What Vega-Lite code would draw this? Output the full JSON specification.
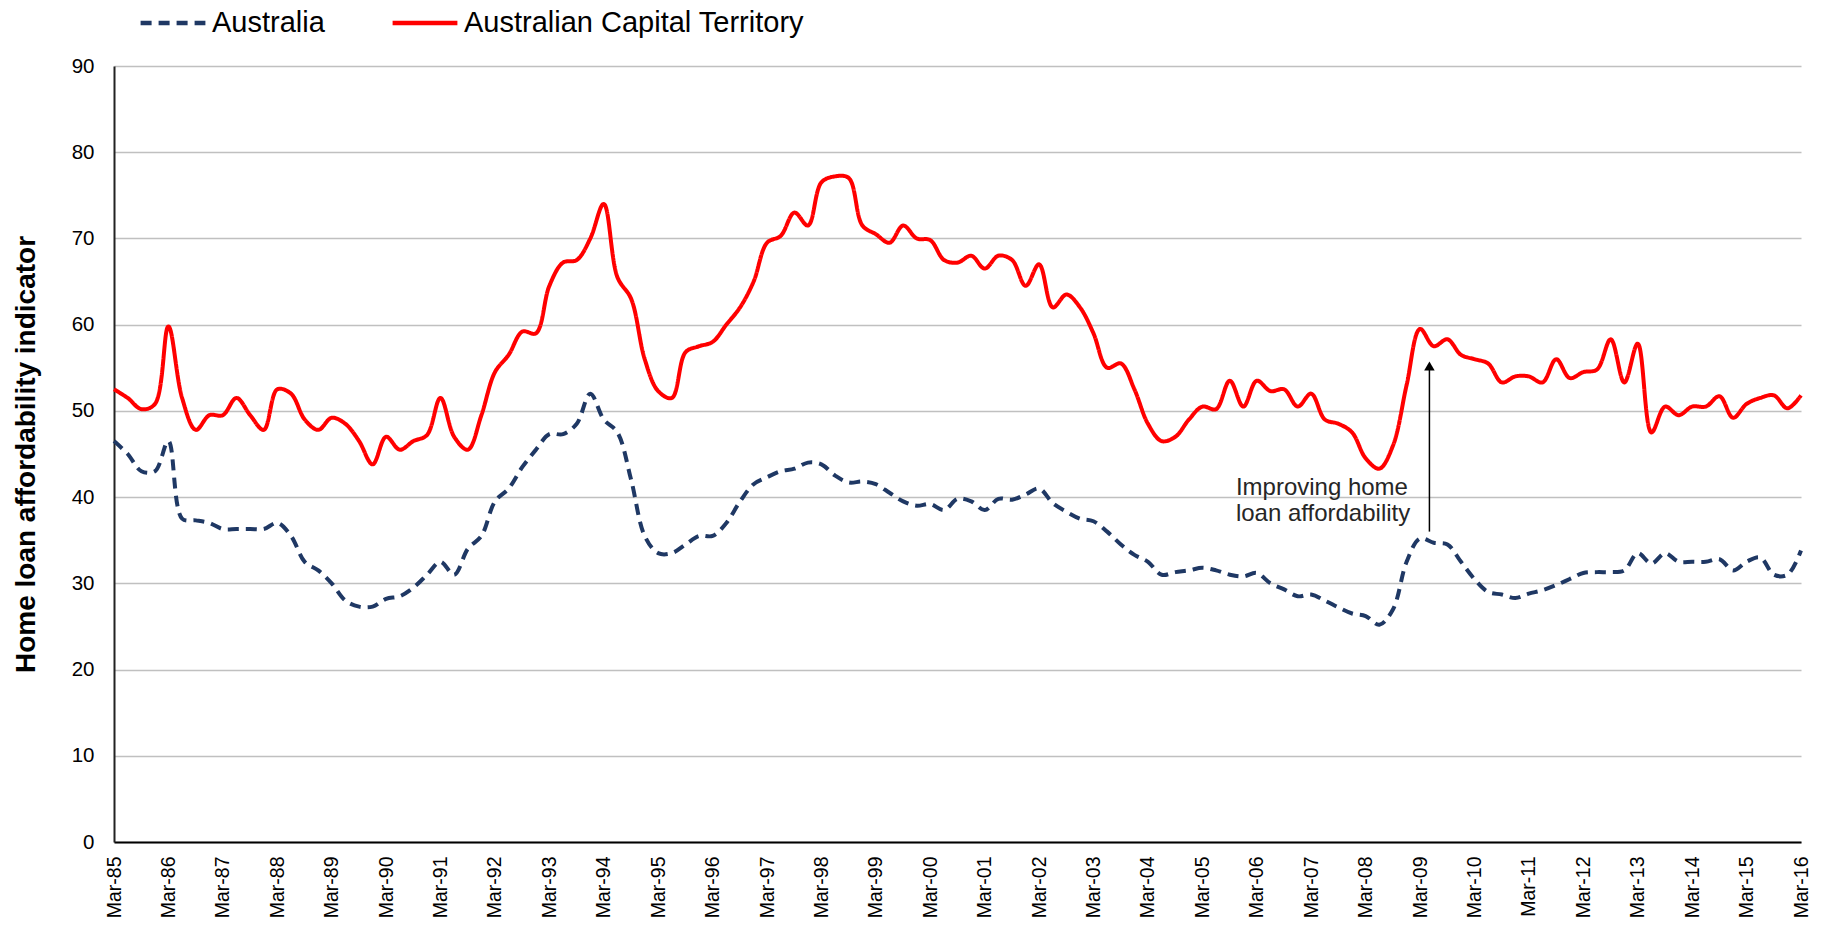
{
  "$schema": "https://vega.github.io/schema/vega-lite/v6.json",
  "autosize": {"type": "none"},
  "padding": {"left": 114, "top": 66, "right": 23, "bottom": 92},
  "width": 1687,
  "height": 776,
  "background": "white",
  "config": {
    "font": "Liberation Sans",
    "view": {"stroke": null}
  },
  "datasets": {
    "series": [
      {"date":"1985-03-01","Australia":46.5,"Australian Capital Territory":52.5},
      {"date":"1985-06-01","Australia":45,"Australian Capital Territory":51.5},
      {"date":"1985-09-01","Australia":43,"Australian Capital Territory":50.2},
      {"date":"1985-12-01","Australia":43,"Australian Capital Territory":50.8},
      {"date":"1986-03-01","Australia":46.5,"Australian Capital Territory":59.8},
      {"date":"1986-06-01","Australia":37.5,"Australian Capital Territory":51.5},
      {"date":"1986-09-01","Australia":37.3,"Australian Capital Territory":47.8},
      {"date":"1986-12-01","Australia":37,"Australian Capital Territory":49.5},
      {"date":"1987-03-01","Australia":36.3,"Australian Capital Territory":49.5},
      {"date":"1987-06-01","Australia":36.3,"Australian Capital Territory":51.5},
      {"date":"1987-09-01","Australia":36.3,"Australian Capital Territory":49.5},
      {"date":"1987-12-01","Australia":36.3,"Australian Capital Territory":47.8},
      {"date":"1988-03-01","Australia":37,"Australian Capital Territory":52.5},
      {"date":"1988-06-01","Australia":35.5,"Australian Capital Territory":52},
      {"date":"1988-09-01","Australia":32.5,"Australian Capital Territory":49},
      {"date":"1988-12-01","Australia":31.5,"Australian Capital Territory":47.8},
      {"date":"1989-03-01","Australia":30,"Australian Capital Territory":49.2},
      {"date":"1989-06-01","Australia":28,"Australian Capital Territory":48.5},
      {"date":"1989-09-01","Australia":27.3,"Australian Capital Territory":46.5},
      {"date":"1989-12-01","Australia":27.3,"Australian Capital Territory":43.8},
      {"date":"1990-03-01","Australia":28.2,"Australian Capital Territory":47},
      {"date":"1990-06-01","Australia":28.5,"Australian Capital Territory":45.5},
      {"date":"1990-09-01","Australia":29.5,"Australian Capital Territory":46.5},
      {"date":"1990-12-01","Australia":31,"Australian Capital Territory":47.2},
      {"date":"1991-03-01","Australia":32.5,"Australian Capital Territory":51.5},
      {"date":"1991-06-01","Australia":31,"Australian Capital Territory":47},
      {"date":"1991-09-01","Australia":34,"Australian Capital Territory":45.5},
      {"date":"1991-12-01","Australia":35.5,"Australian Capital Territory":49.5},
      {"date":"1992-03-01","Australia":39.5,"Australian Capital Territory":54.5},
      {"date":"1992-06-01","Australia":41,"Australian Capital Territory":56.5},
      {"date":"1992-09-01","Australia":43.5,"Australian Capital Territory":59.2},
      {"date":"1992-12-01","Australia":45.5,"Australian Capital Territory":59},
      {"date":"1993-03-01","Australia":47.3,"Australian Capital Territory":64.5},
      {"date":"1993-06-01","Australia":47.3,"Australian Capital Territory":67.2},
      {"date":"1993-09-01","Australia":48.5,"Australian Capital Territory":67.5},
      {"date":"1993-12-01","Australia":52,"Australian Capital Territory":70},
      {"date":"1994-03-01","Australia":49,"Australian Capital Territory":74},
      {"date":"1994-06-01","Australia":47.5,"Australian Capital Territory":65.5},
      {"date":"1994-09-01","Australia":42,"Australian Capital Territory":63},
      {"date":"1994-12-01","Australia":35.5,"Australian Capital Territory":56},
      {"date":"1995-03-01","Australia":33.5,"Australian Capital Territory":52.3},
      {"date":"1995-06-01","Australia":33.5,"Australian Capital Territory":51.5},
      {"date":"1995-09-01","Australia":34.5,"Australian Capital Territory":56.8},
      {"date":"1995-12-01","Australia":35.5,"Australian Capital Territory":57.5},
      {"date":"1996-03-01","Australia":35.5,"Australian Capital Territory":58},
      {"date":"1996-06-01","Australia":37,"Australian Capital Territory":60},
      {"date":"1996-09-01","Australia":39.5,"Australian Capital Territory":62},
      {"date":"1996-12-01","Australia":41.5,"Australian Capital Territory":65},
      {"date":"1997-03-01","Australia":42.3,"Australian Capital Territory":69.5},
      {"date":"1997-06-01","Australia":43,"Australian Capital Territory":70.3},
      {"date":"1997-09-01","Australia":43.3,"Australian Capital Territory":73},
      {"date":"1997-12-01","Australia":44,"Australian Capital Territory":71.5},
      {"date":"1998-03-01","Australia":43.8,"Australian Capital Territory":76.5},
      {"date":"1998-06-01","Australia":42.5,"Australian Capital Territory":77.2},
      {"date":"1998-09-01","Australia":41.7,"Australian Capital Territory":77},
      {"date":"1998-12-01","Australia":41.8,"Australian Capital Territory":71.5},
      {"date":"1999-03-01","Australia":41.5,"Australian Capital Territory":70.5},
      {"date":"1999-06-01","Australia":40.5,"Australian Capital Territory":69.5},
      {"date":"1999-09-01","Australia":39.5,"Australian Capital Territory":71.5},
      {"date":"1999-12-01","Australia":39,"Australian Capital Territory":70},
      {"date":"2000-03-01","Australia":39.2,"Australian Capital Territory":69.8},
      {"date":"2000-06-01","Australia":38.5,"Australian Capital Territory":67.5},
      {"date":"2000-09-01","Australia":39.8,"Australian Capital Territory":67.2},
      {"date":"2000-12-01","Australia":39.5,"Australian Capital Territory":68},
      {"date":"2001-03-01","Australia":38.5,"Australian Capital Territory":66.5},
      {"date":"2001-06-01","Australia":39.8,"Australian Capital Territory":68},
      {"date":"2001-09-01","Australia":39.7,"Australian Capital Territory":67.5},
      {"date":"2001-12-01","Australia":40.3,"Australian Capital Territory":64.5},
      {"date":"2002-03-01","Australia":41,"Australian Capital Territory":67},
      {"date":"2002-06-01","Australia":39.3,"Australian Capital Territory":62},
      {"date":"2002-09-01","Australia":38.3,"Australian Capital Territory":63.5},
      {"date":"2002-12-01","Australia":37.5,"Australian Capital Territory":62},
      {"date":"2003-03-01","Australia":37.2,"Australian Capital Territory":59},
      {"date":"2003-06-01","Australia":36,"Australian Capital Territory":55},
      {"date":"2003-09-01","Australia":34.5,"Australian Capital Territory":55.5},
      {"date":"2003-12-01","Australia":33.3,"Australian Capital Territory":52.5},
      {"date":"2004-03-01","Australia":32.5,"Australian Capital Territory":48.5},
      {"date":"2004-06-01","Australia":31,"Australian Capital Territory":46.5},
      {"date":"2004-09-01","Australia":31.3,"Australian Capital Territory":47},
      {"date":"2004-12-01","Australia":31.5,"Australian Capital Territory":49},
      {"date":"2005-03-01","Australia":31.8,"Australian Capital Territory":50.5},
      {"date":"2005-06-01","Australia":31.5,"Australian Capital Territory":50.2},
      {"date":"2005-09-01","Australia":31,"Australian Capital Territory":53.5},
      {"date":"2005-12-01","Australia":30.8,"Australian Capital Territory":50.5},
      {"date":"2006-03-01","Australia":31.2,"Australian Capital Territory":53.5},
      {"date":"2006-06-01","Australia":30,"Australian Capital Territory":52.3},
      {"date":"2006-09-01","Australia":29.3,"Australian Capital Territory":52.5},
      {"date":"2006-12-01","Australia":28.5,"Australian Capital Territory":50.5},
      {"date":"2007-03-01","Australia":28.7,"Australian Capital Territory":52},
      {"date":"2007-06-01","Australia":28,"Australian Capital Territory":49},
      {"date":"2007-09-01","Australia":27.2,"Australian Capital Territory":48.5},
      {"date":"2007-12-01","Australia":26.5,"Australian Capital Territory":47.5},
      {"date":"2008-03-01","Australia":26.2,"Australian Capital Territory":44.5},
      {"date":"2008-06-01","Australia":25.2,"Australian Capital Territory":43.3},
      {"date":"2008-09-01","Australia":27,"Australian Capital Territory":46},
      {"date":"2008-12-01","Australia":32.5,"Australian Capital Territory":53},
      {"date":"2009-03-01","Australia":35.2,"Australian Capital Territory":59.5},
      {"date":"2009-06-01","Australia":34.7,"Australian Capital Territory":57.5},
      {"date":"2009-09-01","Australia":34.5,"Australian Capital Territory":58.3},
      {"date":"2009-12-01","Australia":32.5,"Australian Capital Territory":56.5},
      {"date":"2010-03-01","Australia":30.5,"Australian Capital Territory":56},
      {"date":"2010-06-01","Australia":29,"Australian Capital Territory":55.5},
      {"date":"2010-09-01","Australia":28.7,"Australian Capital Territory":53.3},
      {"date":"2010-12-01","Australia":28.3,"Australian Capital Territory":54},
      {"date":"2011-03-01","Australia":28.8,"Australian Capital Territory":54},
      {"date":"2011-06-01","Australia":29.2,"Australian Capital Territory":53.3},
      {"date":"2011-09-01","Australia":29.8,"Australian Capital Territory":56},
      {"date":"2011-12-01","Australia":30.5,"Australian Capital Territory":53.8},
      {"date":"2012-03-01","Australia":31.2,"Australian Capital Territory":54.5},
      {"date":"2012-06-01","Australia":31.3,"Australian Capital Territory":54.8},
      {"date":"2012-09-01","Australia":31.3,"Australian Capital Territory":58.3},
      {"date":"2012-12-01","Australia":31.5,"Australian Capital Territory":53.3},
      {"date":"2013-03-01","Australia":33.5,"Australian Capital Territory":57.8},
      {"date":"2013-06-01","Australia":32.3,"Australian Capital Territory":47.5},
      {"date":"2013-09-01","Australia":33.5,"Australian Capital Territory":50.5},
      {"date":"2013-12-01","Australia":32.5,"Australian Capital Territory":49.5},
      {"date":"2014-03-01","Australia":32.5,"Australian Capital Territory":50.5},
      {"date":"2014-06-01","Australia":32.5,"Australian Capital Territory":50.5},
      {"date":"2014-09-01","Australia":32.8,"Australian Capital Territory":51.7},
      {"date":"2014-12-01","Australia":31.5,"Australian Capital Territory":49.2},
      {"date":"2015-03-01","Australia":32.5,"Australian Capital Territory":50.8},
      {"date":"2015-06-01","Australia":33,"Australian Capital Territory":51.5},
      {"date":"2015-09-01","Australia":31,"Australian Capital Territory":51.8},
      {"date":"2015-12-01","Australia":31,"Australian Capital Territory":50.3},
      {"date":"2016-03-01","Australia":33.8,"Australian Capital Territory":51.8}
    ],
    "note": [
      {"date":"2005-10-12","v":41.0,"text":"Improving home"},
      {"date":"2005-10-12","v":38.0,"text":"loan affordability"}
    ],
    "arrow": [
      {"date":"2009-05-03","v":36.0,"v2":55.2}
    ]
  },
  "layer": [
    {
      "data": {"name": "series"},
      "transform": [
        {"fold": ["Australia", "Australian Capital Territory"], "as": ["series", "value"]}
      ],
      "mark": {"type": "line", "interpolate": "catmull-rom", "strokeWidth": 4},
      "encoding": {
        "x": {
          "field": "date",
          "type": "temporal",
          "scale": {
            "type": "utc",
            "nice": false,
            "domain": [
              {"year": 1985, "month": 3, "date": 1, "utc": true},
              {"year": 2016, "month": 3, "date": 1, "utc": true}
            ]
          },
          "axis": {
            "title": null,
            "labelExpr": "utcFormat(datum.value, '%b-%y')",
            "values": [
              {"year":1985,"month":3,"date":1,"utc":true},{"year":1986,"month":3,"date":1,"utc":true},
              {"year":1987,"month":3,"date":1,"utc":true},{"year":1988,"month":3,"date":1,"utc":true},
              {"year":1989,"month":3,"date":1,"utc":true},{"year":1990,"month":3,"date":1,"utc":true},
              {"year":1991,"month":3,"date":1,"utc":true},{"year":1992,"month":3,"date":1,"utc":true},
              {"year":1993,"month":3,"date":1,"utc":true},{"year":1994,"month":3,"date":1,"utc":true},
              {"year":1995,"month":3,"date":1,"utc":true},{"year":1996,"month":3,"date":1,"utc":true},
              {"year":1997,"month":3,"date":1,"utc":true},{"year":1998,"month":3,"date":1,"utc":true},
              {"year":1999,"month":3,"date":1,"utc":true},{"year":2000,"month":3,"date":1,"utc":true},
              {"year":2001,"month":3,"date":1,"utc":true},{"year":2002,"month":3,"date":1,"utc":true},
              {"year":2003,"month":3,"date":1,"utc":true},{"year":2004,"month":3,"date":1,"utc":true},
              {"year":2005,"month":3,"date":1,"utc":true},{"year":2006,"month":3,"date":1,"utc":true},
              {"year":2007,"month":3,"date":1,"utc":true},{"year":2008,"month":3,"date":1,"utc":true},
              {"year":2009,"month":3,"date":1,"utc":true},{"year":2010,"month":3,"date":1,"utc":true},
              {"year":2011,"month":3,"date":1,"utc":true},{"year":2012,"month":3,"date":1,"utc":true},
              {"year":2013,"month":3,"date":1,"utc":true},{"year":2014,"month":3,"date":1,"utc":true},
              {"year":2015,"month":3,"date":1,"utc":true},{"year":2016,"month":3,"date":1,"utc":true}
            ],
            "labelAngle": -90,
            "labelFontSize": 19.5,
            "labelColor": "#000000",
            "labelPadding": 14,
            "labelOverlap": false,
            "labelFlush": false,
            "ticks": false,
            "grid": false,
            "domainColor": "#000000",
            "domainWidth": 2
          }
        },
        "y": {
          "field": "value",
          "type": "quantitative",
          "scale": {"domain": [0, 90], "nice": false, "zero": true},
          "axis": {
            "title": "Home loan affordability indicator",
            "titleFontSize": 28,
            "titleFontWeight": "bold",
            "titleColor": "#000000",
            "titleX": -74,
            "values": [0, 10, 20, 30, 40, 50, 60, 70, 80, 90],
            "labelFontSize": 20.5,
            "labelColor": "#000000",
            "labelPadding": 20,
            "ticks": false,
            "grid": true,
            "gridColor": "#c0c0c0",
            "gridWidth": 1.5,
            "domainColor": "#222222",
            "domainWidth": 2
          }
        },
        "color": {
          "field": "series",
          "type": "nominal",
          "scale": {
            "domain": ["Australia", "Australian Capital Territory"],
            "range": ["#1f3864", "#ff0000"]
          },
          "legend": {
            "title": null,
            "orient": "none",
            "direction": "horizontal",
            "legendX": 24,
            "legendY": -78,
            "labelFontSize": 29,
            "labelColor": "#000000",
            "labelLimit": 0,
            "symbolType": "stroke",
            "symbolSize": 4200,
            "symbolStrokeWidth": 4.5,
            "columnPadding": 58,
            "labelOffset": 4
          }
        },
        "strokeDash": {
          "field": "series",
          "type": "nominal",
          "scale": {
            "domain": ["Australia", "Australian Capital Territory"],
            "range": [[11, 7], [1, 0]]
          },
          "legend": {
            "title": null,
            "orient": "none",
            "direction": "horizontal",
            "legendX": 24,
            "legendY": -78,
            "labelFontSize": 29,
            "labelColor": "#000000",
            "labelLimit": 0,
            "symbolType": "stroke",
            "symbolSize": 4200,
            "symbolStrokeWidth": 4.5,
            "columnPadding": 58,
            "labelOffset": 4
          }
        }
      }
    },
    {
      "data": {"name": "note"},
      "mark": {"type": "text", "align": "left", "baseline": "middle", "fontSize": 24, "color": "#262626"},
      "encoding": {
        "x": {"field": "date", "type": "temporal"},
        "y": {"field": "v", "type": "quantitative"},
        "text": {"field": "text"}
      }
    },
    {
      "data": {"name": "arrow"},
      "mark": {"type": "rule", "color": "#000000", "strokeWidth": 1.5},
      "encoding": {
        "x": {"field": "date", "type": "temporal"},
        "y": {"field": "v", "type": "quantitative"},
        "y2": {"field": "v2"}
      }
    },
    {
      "data": {"name": "arrow"},
      "mark": {"type": "point", "shape": "triangle-up", "filled": true, "color": "#000000", "size": 110, "opacity": 1},
      "encoding": {
        "x": {"field": "date", "type": "temporal"},
        "y": {"field": "v2", "type": "quantitative"}
      }
    }
  ]
}
